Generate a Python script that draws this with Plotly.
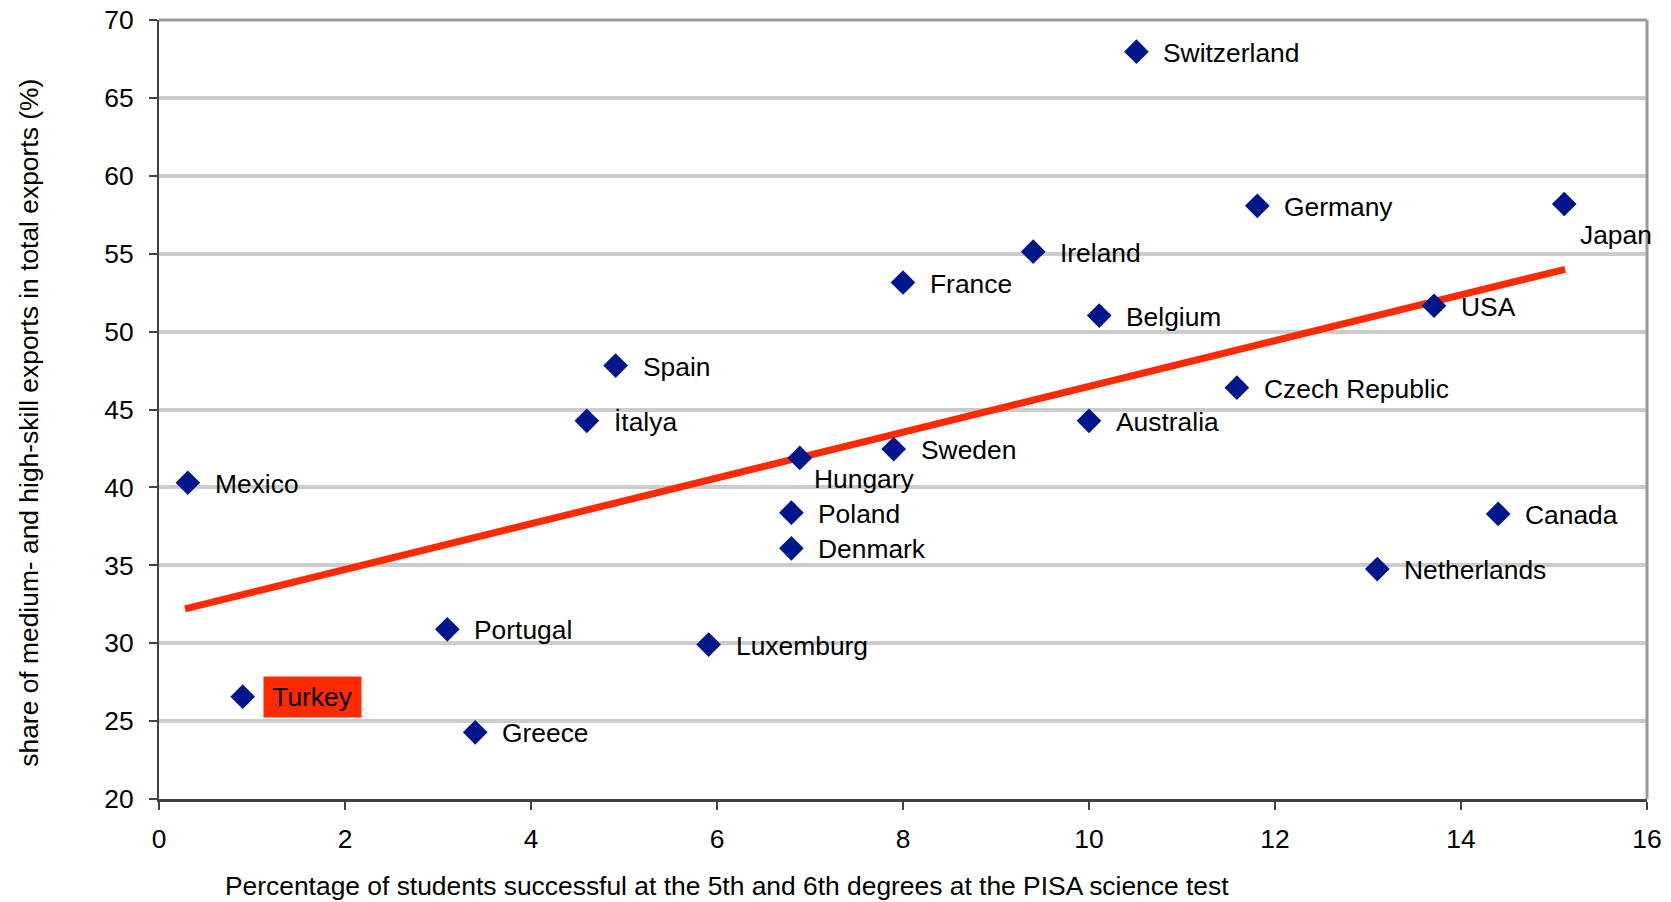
import plotly.graph_objects as go

# Country values: PISA top-level science share (x) vs. medium/high-skill export share (y)
countries = [
    "Switzerland", "Germany", "Japan", "Ireland", "France", "Belgium", "USA",
    "Spain", "Czech Republic", "İtalya", "Australia", "Sweden", "Hungary",
    "Mexico", "Poland", "Canada", "Denmark", "Netherlands", "Portugal",
    "Luxemburg", "Turkey", "Greece",
]
pisa_top_share = [
    10.51, 11.81, 15.11, 9.40, 8.00, 10.11, 13.71,
    4.91, 11.59, 4.60, 10.00, 7.90, 6.89,
    0.31, 6.80, 14.40, 6.80, 13.10, 3.10,
    5.91, 0.90, 3.40,
]
export_share = [
    67.97, 58.07, 58.19, 55.13, 53.15, 51.03, 51.66,
    47.82, 46.40, 44.27, 44.27, 42.46, 41.89,
    40.30, 38.38, 38.30, 36.09, 34.76, 30.89,
    29.91, 26.57, 24.28,
]

# Linear trend line end points
trend_x = [0.28, 15.12]
trend_y = [32.2, 54.0]

x_ticks = [0, 2, 4, 6, 8, 10, 12, 14, 16]
y_ticks = [20, 25, 30, 35, 40, 45, 50, 55, 60, 65, 70]

FONT = "Liberation Sans, Arial, sans-serif"
FONT_SIZE = 26.4
MARKER_BLUE = "#00168C"
TREND_RED = "#FF2A00"

fig = go.Figure()

fig.add_trace(go.Scatter(
    x=trend_x, y=trend_y, mode="lines",
    line=dict(color=TREND_RED, width=7),
    hoverinfo="skip", showlegend=False,
))

fig.add_trace(go.Scatter(
    x=pisa_top_share, y=export_share, mode="markers",
    marker=dict(symbol="diamond", size=19, color=MARKER_BLUE, line=dict(width=0)),
    text=countries, hoverinfo="text", showlegend=False,
))

# Label placement: default is to the right of the marker; a few sit below-right
label_offsets = {"Hungary": (12, -21), "Japan": (14, -31)}

annotations = []
for name, xv, yv in zip(countries, pisa_top_share, export_share):
    dx, dy = label_offsets.get(name, (25, -1))
    ann = dict(
        x=xv, y=yv, xref="x", yref="y", text=name, showarrow=False,
        xanchor="left", yanchor="middle", xshift=dx, yshift=dy,
        font=dict(family=FONT, size=FONT_SIZE, color="#000000"),
    )
    if name == "Turkey":
        ann.update(bgcolor=TREND_RED, width=97, height=40, borderpad=0,
                   align="center", xshift=20, yshift=0)
    annotations.append(ann)

# Axis titles
annotations.append(dict(
    text="share of medium- and high-skill exports in total exports (%)",
    xref="paper", yref="paper", x=-0.0874, y=0.483, textangle=-90,
    showarrow=False, xanchor="center", yanchor="middle",
    font=dict(family=FONT, size=FONT_SIZE, color="#000000"),
))
annotations.append(dict(
    text="Percentage of students successful at the 5th and 6th degrees at the PISA science test",
    xref="paper", yref="paper", x=0.382, y=-0.1112,
    showarrow=False, xanchor="center", yanchor="middle",
    font=dict(family=FONT, size=FONT_SIZE, color="#000000"),
))

fig.update_layout(
    width=1671, height=902, autosize=False,
    margin=dict(l=159, r=24, t=20, b=103, pad=0, autoexpand=False),
    paper_bgcolor="white", plot_bgcolor="white",
    font=dict(family=FONT, size=FONT_SIZE, color="#000000"),
    annotations=annotations,
    shapes=[
        dict(type="line", xref="paper", yref="paper", x0=0, x1=1, y0=1, y1=1,
             line=dict(color="#9A9A9A", width=3), layer="above"),
        dict(type="line", xref="paper", yref="paper", x0=1, x1=1, y0=0, y1=1,
             line=dict(color="#9A9A9A", width=3), layer="above"),
    ],
)

fig.update_xaxes(
    range=[0, 16], tickvals=x_ticks, ticktext=[str(v) for v in x_ticks],
    showgrid=False, zeroline=False, automargin=False,
    showline=True, linecolor="#404040", linewidth=3,
    ticks="outside", ticklen=8, tickwidth=1.5, tickcolor="#404040",
    ticklabelstandoff=6,
    tickfont=dict(family=FONT, size=FONT_SIZE, color="#000000"),
)
fig.update_yaxes(
    range=[20, 70], tickvals=y_ticks, ticktext=[str(v) for v in y_ticks],
    showgrid=True, gridcolor="#CCCCCC", gridwidth=4, zeroline=False,
    automargin=False,
    showline=True, linecolor="#404040", linewidth=2,
    ticks="outside", ticklen=8, tickwidth=1.5, tickcolor="#404040",
    ticklabelstandoff=10,
    tickfont=dict(family=FONT, size=FONT_SIZE, color="#000000"),
)

fig.write_html("out.html")
